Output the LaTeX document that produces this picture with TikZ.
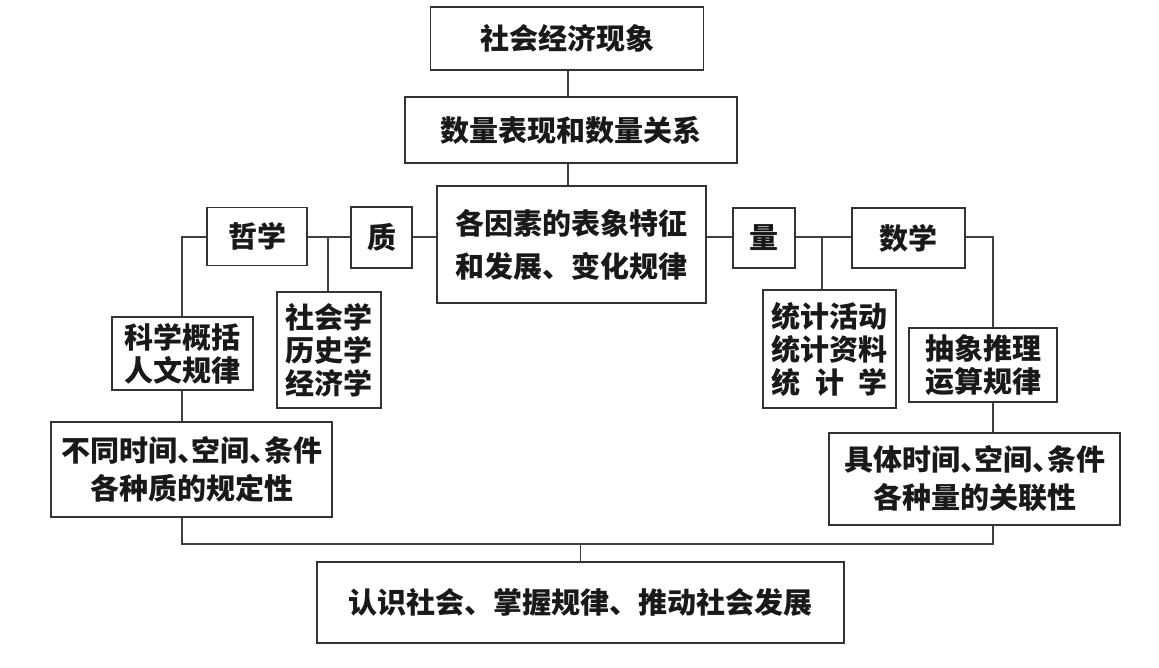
\documentclass[tikz,border=0pt]{standalone}
\usepackage{fontspec}
\setmainfont{Noto Sans CJK SC}
\newfontfamily\cjk{Noto Sans CJK SC}
\newcommand{\dunhao}{\makebox[0.5em][l]{、}}
\begin{document}
\begin{tikzpicture}[x=1pt,y=-1pt,
  box/.style={draw=black!80,line width=1.3pt,inner sep=0pt,align=center,text=black!90},
  link/.style={draw=black!75,line width=1.3pt},
  f33/.style={font=\cjk\bfseries\fontsize{29}{33}\selectfont},
  f38/.style={font=\cjk\bfseries\fontsize{29}{38}\selectfont},
  f43/.style={font=\cjk\bfseries\fontsize{29}{43}\selectfont}]
\useasboundingbox (0,0) rectangle (1159,667);
\fill[white] (0,0) rectangle (1159,667);
% top chain
\node[box,f33,minimum width=273pt,minimum height=63pt] (n1) at (567,38.5) {社会经济现象};
\node[box,f33,minimum width=332pt,minimum height=66pt] (n2) at (571,130) {数量表现和数量关系};
\node[box,f43,minimum width=269pt,minimum height=117pt] (n3) at (571.5,244.5) {各因素的表象特征\\和发展、变化规律};
% left
\node[box,f33,minimum width=100pt,minimum height=58pt] (zhe) at (257,236.5) {哲学};
\node[box,f33,minimum width=61pt,minimum height=61pt] (zhi) at (381.5,237.5) {质};
\node[box,f33,minimum width=104pt,minimum height=116pt] (sheh) at (329,350) {社会学\\历史学\\经济学};
\node[box,f33,minimum width=141pt,minimum height=73pt] (kexue) at (182.5,353.5) {科学概括\\人文规律};
\node[box,f38,minimum width=281pt,minimum height=95pt] (butong) at (191.5,469.5) {不同时间\dunhao 空间\dunhao 条件\\各种质的规定性};
% right
\node[box,f33,minimum width=62pt,minimum height=60pt] (liang) at (764,238) {量};
\node[box,f33,minimum width=113pt,minimum height=60pt] (shuxue) at (908.5,238) {数学};
\node[box,f33,minimum width=133pt,minimum height=118pt] (tongji) at (829.5,349) {统计活动\\统计资料\\\makebox[4em]{统\hfill 计\hfill 学}};
\node[box,f33,minimum width=148pt,minimum height=74pt] (chou) at (983,365) {抽象推理\\运算规律};
\node[box,f38,minimum width=291pt,minimum height=92pt] (juti) at (974.5,479) {具体时间\dunhao 空间\dunhao 条件\\各种量的关联性};
% bottom
\node[box,f33,minimum width=527pt,minimum height=81pt] (bot) at (580.5,602.5) {认识社会、掌握规律、推动社会发展};
% junction coordinates
\coordinate (bl) at (328,237);
\coordinate (br) at (822,237);
\coordinate (jl) at (182,544);
\coordinate (jr) at (993,544);
\coordinate (jm) at (580.5,544);
\coordinate (jt) at (568,0);
% connectors
\draw[link] (n1.south -| jt) -- (n2.north -| jt);
\draw[link] (n2.south -| jt) -- (n3.north -| jt);
\draw[link] (zhe.east |- bl) -- (zhi.west |- bl);
\draw[link] (zhi.east |- bl) -- (n3.west |- bl);
\draw[link] (bl) -- (sheh.north -| bl);
\draw[link] (zhe.west |- bl) -| (kexue.north -| jl);
\draw[link] (kexue.south -| jl) -- (butong.north -| jl);
\draw[link] (butong.south -| jl) -- (jl) -- (jr) -- (juti.south -| jr);
\draw[link] (jm) -- (bot.north);
\draw[link] (n3.east |- br) -- (liang.west |- br);
\draw[link] (liang.east |- br) -- (shuxue.west |- br);
\draw[link] (br) -- (tongji.north -| br);
\draw[link] (shuxue.east |- br) -| (chou.north -| jr);
\draw[link] (chou.south -| jr) -- (juti.north -| jr);
\end{tikzpicture}
\end{document}
